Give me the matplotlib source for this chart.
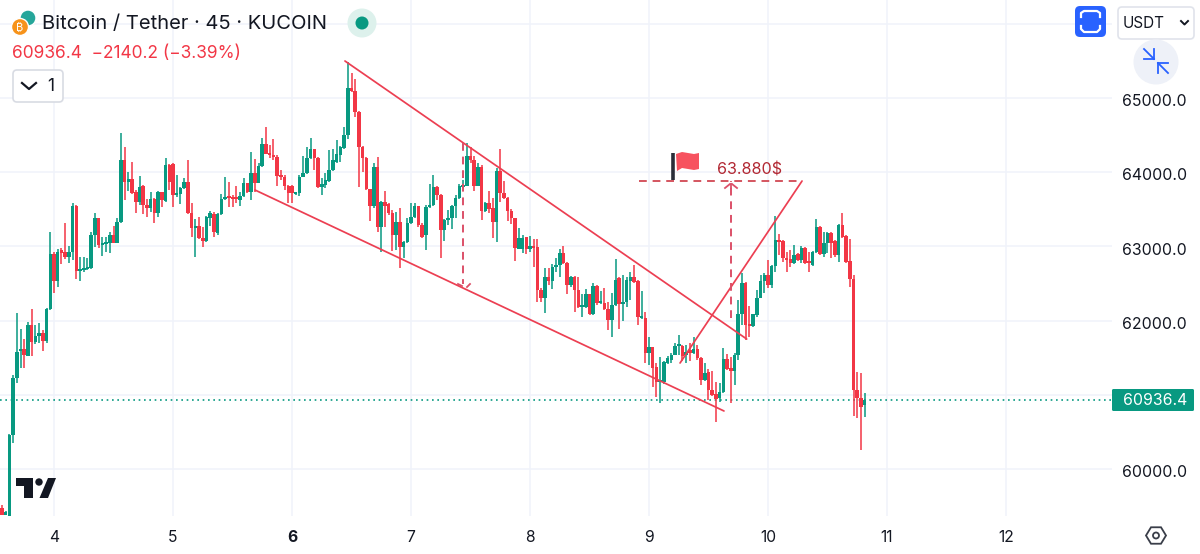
#!/usr/bin/python3
import numpy as np
import matplotlib
matplotlib.use("Agg")
import matplotlib.pyplot as plt
from matplotlib.patches import Circle, FancyBboxPatch, Polygon
from matplotlib.transforms import ScaledTranslation

plt.rcParams['font.family'] = ['Inter', 'Noto Sans', 'Roboto', 'DejaVu Sans']

# 45 minute candles, first one opens at day 3.5625
bar_days = 1 / 32
first_day = 3.5625

opens = [59470, 59380, 59180, 60460, 61230, 61590, 61620, 61523, 61940, 61710, 61790, 61830, 61730, 62160, 62900, 62530,
         62952, 62925, 62860, 62925, 63545, 62670, 62683, 62700, 62710, 63150, 63380, 63020, 63030, 63050, 63154, 63050,
         63330, 64165, 63870, 63909, 63734, 63600, 63815, 63559, 63518, 63640, 63451, 63734, 63610, 64098, 64111, 63694,
         63707, 63788, 63869, 63451, 63249, 63276, 63114, 63073, 63383, 63437, 63181, 63437, 63640, 63667, 63667, 63667,
         63626, 63680, 63855, 63734, 63990, 63855, 64084, 64381, 64260, 64233, 64206, 63963, 63936, 63815, 63815, 63707,
         63720, 63936, 63990, 64192, 64314, 64192, 63801, 63828, 63882, 64031, 64138, 64233, 64327, 64502, 65136, 65095,
         64812, 64341, 64192, 63774, 63545, 64071, 63262, 63599, 63572, 63451, 63154, 63330, 62993, 63060, 63316, 63397,
         63545, 63289, 63154, 63532, 63559, 63801, 63694, 63222, 63357, 63383, 63545, 63653, 63801, 63815, 64219, 64165,
         63815, 64071, 63478, 63586, 63518, 63330, 64017, 63720, 63653, 63478, 63383, 62966, 62966, 63127, 62966, 63006,
         62993, 62413, 62305, 62588, 62534, 62723, 62750, 62912, 62777, 62480, 62588, 62413, 62184, 62190, 62359, 62089,
         62467, 62238, 62238, 62157, 62008, 62211, 62575, 62224, 62251, 62534, 62588, 62534, 62035, 62035, 61564, 61645,
         61375, 61173, 61173, 61429, 61469, 61537, 61658, 61658, 61537, 61604, 61564, 61618, 61496, 61200, 61307, 61065,
         61011, 60957, 61038, 61483, 61361, 61321, 61537, 62089, 62507, 61955, 61928, 62076, 62305, 62534, 62615, 62480,
         62736, 63087, 63073, 62844, 62831, 62777, 62898, 62817, 62979, 62790, 62750, 62925, 63262, 62898, 63046, 63181,
         63073, 62885, 63289, 63141, 62804, 62561, 61065, 60957, 60863]
highs = [59520, 59440, 60470, 61267, 62103, 61887, 61752, 61982, 62157, 61940, 61968, 61874, 62170, 63195, 62920, 62966,
         62979, 63316, 63006, 63586, 63560, 62858, 62858, 62844, 63195, 63451, 63390, 63127, 63127, 63195, 63276, 63383,
         64529, 64341, 64004, 64138, 63761, 63950, 63828, 63640, 63734, 63650, 63747, 63740, 64192, 64110, 64120, 63963,
         63801, 63923, 64165, 63586, 63370, 63397, 63262, 63410, 63478, 63464, 63451, 63707, 63936, 63869, 63694, 63815,
         63734, 63923, 63860, 64273, 64179, 64125, 64462, 64610, 64368, 64448, 64233, 64031, 63963, 63828, 63828, 63734,
         63963, 64219, 64341, 64462, 64320, 64206, 63923, 63990, 64300, 64314, 64435, 64350, 64610, 65486, 65338, 65257,
         64820, 64350, 64200, 63780, 64125, 64206, 63610, 63747, 63586, 63491, 63464, 63518, 63070, 63383, 63586, 63586,
         63550, 63316, 63559, 63842, 63963, 63815, 63707, 63370, 63491, 63559, 63694, 63842, 63896, 64394, 64341, 64219,
         64125, 64098, 63599, 63747, 63653, 64057, 64314, 63882, 63660, 63505, 63390, 63249, 63154, 63130, 63141, 63100,
         63100, 62440, 62710, 62710, 62763, 62844, 62966, 63006, 62785, 62595, 62595, 62588, 62359, 62426, 62365, 62507,
         62480, 62399, 62440, 62251, 62372, 62831, 62588, 62615, 62588, 62656, 62750, 62548, 62399, 62116, 61779, 61650,
         61429, 61510, 61456, 61523, 61564, 61698, 61806, 61671, 61671, 61698, 61779, 61671, 61505, 61429, 61348, 61321,
         61173, 61159, 61631, 61550, 61510, 61564, 62278, 62642, 62520, 62197, 62095, 62413, 62615, 62642, 62817, 62750,
         63410, 63168, 63087, 62925, 62952, 63020, 62912, 63006, 62993, 62925, 62939, 63370, 63270, 63195, 63190, 63195,
         63087, 63303, 63451, 63154, 63100, 62615, 61307, 61294, 61024]
lows = [59380, 59380, 59150, 60350, 61159, 61361, 61360, 61520, 61520, 61685, 61698, 61590, 61700, 62143, 62372, 62453,
        62763, 62831, 62777, 62817, 62561, 62534, 62656, 62683, 62700, 62993, 62979, 62871, 62925, 62912, 63040, 63040,
        63320, 63626, 63747, 63710, 63451, 63559, 63437, 63397, 63464, 63316, 63397, 63532, 63600, 63761, 63532, 63667,
        63572, 63780, 63437, 63127, 62858, 63100, 62993, 63060, 63276, 63127, 63154, 63424, 63630, 63532, 63532, 63586,
        63545, 63667, 63720, 63626, 63734, 63850, 64071, 64240, 64192, 64165, 63815, 63896, 63761, 63586, 63586, 63694,
        63680, 63930, 63980, 64180, 64031, 63790, 63694, 63788, 63869, 64017, 64125, 64138, 64320, 64448, 65080, 64745,
        63801, 64004, 63761, 63343, 63518, 63195, 62925, 63262, 63424, 62939, 62952, 62710, 62844, 63050, 63303, 63390,
        63262, 63114, 62952, 63525, 63550, 63626, 62844, 63073, 63289, 63235, 63383, 63640, 63790, 63810, 64125, 63747,
        63810, 63357, 63464, 63451, 63114, 63060, 63599, 63640, 63343, 63303, 62804, 62960, 62912, 62898, 62925, 62723,
        62251, 62251, 62103, 62480, 62426, 62656, 62588, 62770, 62359, 62453, 62116, 62170, 62049, 62170, 62076, 62076,
        62211, 62230, 62143, 61874, 61779, 62200, 61887, 61995, 62184, 62278, 62507, 61941, 62022, 61429, 61402, 61105,
        60971, 60890, 61146, 61420, 61429, 61530, 61537, 61456, 61429, 61456, 61550, 61469, 61132, 61190, 60930, 60990,
        60634, 60903, 61030, 61335, 60890, 61132, 61469, 61941, 61739, 61779, 61920, 62049, 62300, 62372, 62440, 62440,
        62656, 62885, 62790, 62656, 62723, 62763, 62810, 62777, 62770, 62656, 62736, 62912, 62885, 62858, 62912, 62844,
        62858, 62790, 63120, 62780, 62453, 60714, 60687, 60256, 60701]
closes = [59380, 59420, 60460, 61227, 61577, 61618, 61537, 61941, 61712, 61793, 61833, 61725, 62160, 62898, 62534, 62925,
          62912, 62858, 62925, 63545, 62669, 62696, 62710, 62723, 63154, 63383, 63020, 63046, 63060, 63154, 63046, 63330,
          64165, 63869, 63909, 63720, 63599, 63801, 63559, 63518, 63640, 63451, 63734, 63626, 64098, 63869, 63694, 63720,
          63788, 63869, 63451, 63249, 63276, 63114, 63073, 63397, 63451, 63195, 63437, 63640, 63667, 63653, 63640, 63640,
          63680, 63855, 63734, 63990, 63855, 64084, 64381, 64246, 64233, 64206, 63950, 63936, 63815, 63720, 63720, 63720,
          63936, 63990, 64192, 64314, 64192, 63801, 63842, 63896, 64031, 64165, 64246, 64341, 64502, 65136, 65095, 64812,
          64341, 64192, 63774, 63545, 64071, 63262, 63599, 63545, 63451, 63154, 63330, 62993, 63060, 63316, 63397, 63545,
          63289, 63127, 63532, 63559, 63801, 63694, 63222, 63357, 63383, 63545, 63653, 63815, 63828, 64219, 64165, 63815,
          64071, 63478, 63586, 63505, 63330, 64017, 63720, 63653, 63478, 63383, 62979, 63114, 63114, 62966, 63006, 62979,
          62413, 62305, 62588, 62534, 62723, 62750, 62912, 62777, 62480, 62588, 62413, 62184, 62197, 62359, 62089, 62467,
          62238, 62251, 62157, 62008, 62211, 62548, 62224, 62251, 62548, 62588, 62520, 62049, 62049, 61564, 61645, 61361,
          61173, 61200, 61442, 61496, 61537, 61658, 61671, 61523, 61577, 61564, 61618, 61496, 61200, 61294, 61065, 60998,
          60944, 61038, 61483, 61348, 61321, 61537, 62089, 62507, 61941, 61928, 62089, 62305, 62534, 62615, 62480, 62736,
          63087, 63060, 62844, 62817, 62777, 62885, 62817, 62979, 62777, 62777, 62925, 63262, 62898, 63046, 63181, 63046,
          62885, 63289, 63127, 62790, 62561, 61065, 60957, 60836, 60936.4]

day_ticks = [4, 5, 6, 7, 8, 9, 10, 11, 12]
day_labels = ['4', '5', '6', '7', '8', '9', '10', '11', '12']
price_ticks = [60000, 61000, 62000, 63000, 64000, 65000, 66000]
price_labels = ['60000.0', '', '62000.0', '63000.0', '64000.0', '65000.0', '']
last_price = 60936.4

# drawn on the chart by hand: days, prices
upper_days, upper_prices = [6.445, 9.821], [65500, 61752]
lower_days, lower_prices = [5.689, 9.630], [63761, 60782]
break_days, break_prices = [9.261, 10.286], [61429, 63882]
target_days, target_prices = [8.916, 10.286], [63880, 63880]
measure1_days, measure1_prices = [7.441, 7.441], [64394, 62494]
measure2_days, measure2_prices = [9.689, 9.689], [62035, 63880]

GREEN = '#089981'
RED = '#F23645'
LINE = '#EC3F52'
GRID = '#F0F3FA'
TEXT = '#131722'

fig = plt.figure(figsize=(12, 5.54), dpi=100)
ax = fig.add_axes([0, 38 / 554, 1112 / 1200, 516 / 554])
ax.set_xlim(4 - 54 / 119, 4 + 1058 / 119)
ax.set_ylim(60000 - 47 * 13.48, 60000 + 469 * 13.48)
for s in ax.spines.values():
    s.set_visible(False)
ax.set_axisbelow(True)
ax.grid(True, color=GRID, lw=1.1)

ax.set_xticks(day_ticks)
ax.set_xticklabels(day_labels, fontsize=11.3)
ax.get_xticklabels()[2].set_fontweight('bold')
ax.yaxis.tick_right()
ax.set_yticks(price_ticks)
ax.set_yticklabels(price_labels, fontsize=11.4, color=TEXT)
ax.tick_params(axis='x', length=0, pad=9.8, colors=TEXT)
ax.tick_params(axis='y', length=0, pad=7.5)
# price labels sit a little below their grid lines
down = ScaledTranslation(0, -1.5 / 72, fig.dpi_scale_trans)
for lab in ax.get_yticklabels():
    lab.set_transform(lab.get_transform() + down)

days = first_day + np.arange(len(opens)) * bar_days
opens, highs, lows, closes = map(np.array, (opens, highs, lows, closes))
up = closes >= opens
cols = np.where(up, GREEN, RED)
ax.vlines(days, lows, highs, colors=cols, lw=1.1, zorder=2)
ax.bar(days, np.maximum(np.abs(closes - opens), 22), bottom=np.minimum(opens, closes),
       width=bar_days * 0.95, color=cols, lw=0, zorder=3)

ax.axhline(last_price, color=GREEN, lw=1.2, ls=(0, (1, 2.2)), zorder=1)

for xs, ys in [(upper_days, upper_prices), (lower_days, lower_prices), (break_days, break_prices)]:
    ax.plot(xs, ys, color=LINE, lw=1.25, zorder=4, solid_capstyle='round')
ax.plot(target_days, target_prices, color='#D4555F', lw=1.4, ls=(0, (4, 3)), zorder=4)
ax.plot(measure1_days, measure1_prices, color='#DC5068', lw=1.4, ls=(0, (4, 3)), zorder=4)
ax.plot(measure2_days, measure2_prices, color='#DC5068', lw=1.4, ls=(0, (4, 3)), zorder=4)

# overlay in screen pixels for the toolbar, logos and tags
ov = fig.add_axes([0, 0, 1, 1], facecolor='none')
ov.set_xlim(0, 1200)
ov.set_ylim(554, 0)
ov.axis('off')

# arrow heads of the measure lines
ov.plot([725, 730], [188, 184], color='#DC5068', lw=1.3)
ov.plot([737, 732], [188, 184], color='#DC5068', lw=1.3)
ov.plot([731, 731], [184, 188], color='#DC5068', lw=1.3)
ov.plot([458, 462], [284, 286], color='#DC5068', lw=1.3)
ov.plot([467, 470], [287, 284], color='#DC5068', lw=1.3)

# flag
ov.plot([673, 673], [153, 180], color='#2A2E39', lw=2.6, solid_capstyle='butt')
ov.add_patch(Polygon([(676, 154), (682, 152), (688, 153), (694, 154), (699, 153), (699, 169),
                      (694, 170), (688, 169), (682, 168), (677, 171)], fc='#F7525F', ec='none'))
ov.text(717, 170.5, '63.880$', color='#B22833', fontsize=11.6, va='center', ha='left')

# header
ov.add_patch(Circle((28, 18), 8, fc='#26A69A', ec='white', lw=1))
ov.add_patch(Circle((20, 27), 8.5, fc='#F7931A', ec='white', lw=1))
ov.text(20, 27, '₿', color='white', fontsize=8, ha='center', va='center')
ov.text(42, 24, 'Bitcoin / Tether · 45 · KUCOIN', color=TEXT, fontsize=14.5, va='center', ha='left')
ov.add_patch(Circle((362, 23), 14.5, fc='#DDF1EC', ec='none'))
ov.add_patch(Circle((362, 23), 6.5, fc=GREEN, ec='none'))
ov.text(12, 53.5, '60936.4  −2140.2 (−3.39%)', color=RED, fontsize=12.45, va='center', ha='left')

# collapse button
ov.add_patch(FancyBboxPatch((13, 70), 50, 32, boxstyle='round,pad=0,rounding_size=4',
                            fc='white', ec='#D8DBE3', lw=1.2))
ov.plot([22, 29, 36], [83, 89, 83], color=TEXT, lw=1.6)
ov.text(51, 86.5, '1', color=TEXT, fontsize=12.5, ha='center', va='center')

# top right controls
ov.add_patch(FancyBboxPatch((1075, 6), 31, 31, boxstyle='round,pad=0,rounding_size=5',
                            fc='#2962FF', ec='none'))
ov.plot([1081, 1081, 1084, 1097, 1100, 1100], [17, 13, 11, 11, 13, 17], color='white', lw=1.6)
ov.plot([1081, 1081, 1084, 1097, 1100, 1100], [26, 29, 32, 32, 29, 26], color='white', lw=1.6)
ov.add_patch(FancyBboxPatch((1118, 7), 76, 32, boxstyle='round,pad=0,rounding_size=4',
                            fc='white', ec='#E0E3EB', lw=1.2))
ov.text(1123, 23.5, 'USDT', color=TEXT, fontsize=11, va='center', ha='left')
ov.plot([1181, 1184.5, 1188], [21, 24.5, 21], color=TEXT, lw=1.4)

ov.add_patch(Circle((1156, 62), 22.5, fc='#EEF1F8', ec='none'))
for a, b in [((1144, 49), (1154, 59)), ((1154, 49), (1154, 59)), ((1144, 59), (1154, 59)),
             ((1158, 63), (1168, 73)), ((1158, 63), (1158, 73)), ((1158, 63), (1168, 63))]:
    ov.plot([a[0], b[0]], [a[1], b[1]], color='#2962FF', lw=1.3)

# last price tag
ov.add_patch(FancyBboxPatch((1112, 389), 82, 22, boxstyle='round,pad=0,rounding_size=1.5',
                            fc=GREEN, ec='none'))
ov.text(1155, 400.5, '60936.4', color='white', fontsize=11.4, ha='center', va='center')

# settings icon
hex_a = np.deg2rad(np.arange(0, 360, 60))
ov.add_patch(Polygon(np.c_[1156 + 10 * np.cos(hex_a), 535.5 + 9.5 * np.sin(hex_a)],
                     fc='none', ec='#3A3E49', lw=1.3))
ov.add_patch(Circle((1156, 535.5), 3, fc='none', ec='#3A3E49', lw=1.3))

# TradingView mark
ov.add_patch(Polygon([(16, 478), (33, 478), (33, 498), (24, 498), (24, 486), (16, 486)], fc=TEXT, ec='none'))
ov.add_patch(Circle((39, 482), 3.7, fc=TEXT, ec='none'))
ov.add_patch(Polygon([(48, 478), (56, 478), (48, 498), (39.5, 498)], fc=TEXT, ec='none'))

fig.savefig('out.png', dpi=100)
